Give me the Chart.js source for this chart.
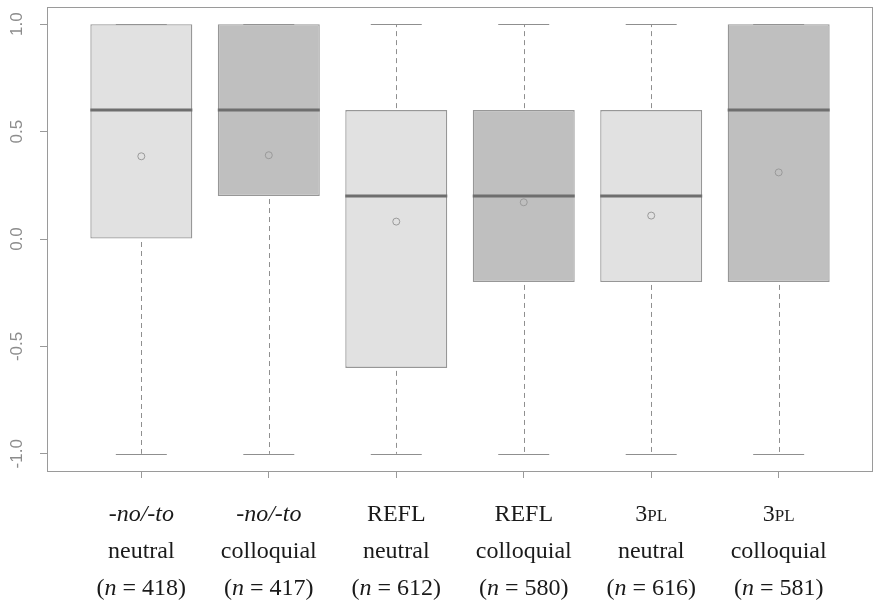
<!DOCTYPE html>
<html>
<head>
<meta charset="utf-8">
<script src="https://cdn.jsdelivr.net/npm/chart.js@4"></script>
<style>
  html, body { margin: 0; padding: 0; background: #fff; }
  #wrap { width: 873px; height: 609px; }
</style>
</head>
<body>
<div id="wrap"><canvas id="boxChart" width="873" height="609"></canvas></div>
<script>
// categories
const forms = ['-no/-to', '-no/-to', 'REFL', 'REFL', '3PL', '3PL'];
const registers = ['neutral', 'colloquial', 'neutral', 'colloquial', 'neutral', 'colloquial'];
const counts = [418, 417, 612, 580, 616, 581];
const positions = [1, 2, 3, 4, 5, 6];

// five-number summaries + means
const mins = [-1, -1, -1, -1, -1, -1];
const q1s = [0, 0.2, -0.6, -0.2, -0.2, -0.2];
const medians = [0.6, 0.6, 0.2, 0.2, 0.2, 0.6];
const q3s = [1, 1, 0.6, 0.6, 0.6, 1];
const maxs = [1, 1, 1, 1, 1, 1];
const means = [0.385, 0.39, 0.081, 0.171, 0.109, 0.31];

const yTicks = [-1, -0.5, 0, 0.5, 1];

const lightFill = '#e1e1e1';
const darkFill = '#bfbfbf';
const boxFills = positions.map((p, i) => i % 2 === 0 ? lightFill : darkFill);

// whiskers, caps and medians
const boxExtras = {
    id: 'boxExtras',
    beforeDatasetsDraw(chart) {
        const { ctx, scales: { x, y } } = chart;
        ctx.save();
        ctx.strokeStyle = '#8f8f8f';
        ctx.lineWidth = 1;
        positions.forEach((p, i) => {
            const px = Math.round(x.getPixelForValue(p)) + 0.5;
            ctx.setLineDash([5, 4]);
            ctx.beginPath();
            if (maxs[i] > q3s[i]) {
                ctx.moveTo(px, y.getPixelForValue(q3s[i]) - 2);
                ctx.lineTo(px, y.getPixelForValue(maxs[i]));
            }
            if (mins[i] < q1s[i]) {
                ctx.moveTo(px, y.getPixelForValue(q1s[i]) + 3);
                ctx.lineTo(px, y.getPixelForValue(mins[i]));
            }
            ctx.stroke();
            ctx.setLineDash([]);
            ctx.beginPath();
            [mins[i], maxs[i]].forEach(v => {
                const py = Math.round(y.getPixelForValue(v)) + 0.5;
                ctx.moveTo(x.getPixelForValue(p - 0.2), py);
                ctx.lineTo(x.getPixelForValue(p + 0.2), py);
            });
            ctx.stroke();
        });
        ctx.restore();
    },
    afterDatasetsDraw(chart) {
        const { ctx, scales: { x, y } } = chart;
        ctx.save();
        ctx.strokeStyle = '#6e6e6e';
        ctx.lineWidth = 3;
        positions.forEach((p, i) => {
            const py = y.getPixelForValue(medians[i]);
            ctx.beginPath();
            ctx.moveTo(x.getPixelForValue(p - 0.4), py);
            ctx.lineTo(x.getPixelForValue(p + 0.4), py);
            ctx.stroke();
        });
        ctx.restore();
    },
    afterDraw(chart) {
        const { ctx, chartArea: a, scales: { x } } = chart;
        ctx.save();
        // plot frame
        ctx.strokeStyle = '#9a9a9a';
        ctx.lineWidth = 1;
        ctx.strokeRect(Math.round(a.left) + 0.5, Math.round(a.top) + 0.5,
            Math.round(a.right - a.left) - 1, Math.round(a.bottom - a.top));

        // category labels, three lines each
        const size = 24;
        const serif = '"Liberation Serif", "Times New Roman", serif';
        ctx.fillStyle = '#1a1a1a';
        ctx.textBaseline = 'alphabetic';
        ctx.textAlign = 'left';
        const drawParts = (parts, cx, by) => {
            let total = 0;
            parts.forEach(pt => { ctx.font = pt.font; total += ctx.measureText(pt.text).width; });
            let sx = cx - total / 2;
            parts.forEach(pt => {
                ctx.font = pt.font;
                ctx.fillText(pt.text, sx, by);
                sx += ctx.measureText(pt.text).width;
            });
        };
        const reg = size + 'px ' + serif;
        const ita = 'italic ' + size + 'px ' + serif;
        const small = Math.round(size * 0.72) + 'px ' + serif;
        positions.forEach((p, i) => {
            const cx = x.getPixelForValue(p);
            let top;
            if (forms[i] === '-no/-to') top = [{ text: forms[i], font: ita }];
            else if (forms[i] === '3PL') top = [{ text: '3', font: reg }, { text: 'PL', font: small }];
            else top = [{ text: forms[i], font: reg }];
            drawParts(top, cx, 521);
            drawParts([{ text: registers[i], font: reg }], cx, 558);
            drawParts([
                { text: '(', font: reg },
                { text: 'n', font: ita },
                { text: ' = ' + counts[i] + ')', font: reg }
            ], cx, 595);
        });
        ctx.restore();
    }
};

const ctx = document.getElementById('boxChart').getContext('2d');
const boxChart = new Chart(ctx, {
    type: 'bar',
    data: {
        datasets: [{
            type: 'bar',
            label: 'IQR',
            order: 2,
            data: positions.map((p, i) => ({ x: p, y: [q1s[i], q3s[i]] })),
            backgroundColor: boxFills,
            borderColor: '#979797',
            borderWidth: 1.3,
            borderSkipped: false,
            categoryPercentage: 1,
            barPercentage: 0.8
        }, {
            type: 'scatter',
            label: 'mean',
            order: 1,
            data: positions.map((p, i) => ({ x: p, y: means[i] })),
            pointStyle: 'circle',
            pointRadius: 3.5,
            borderColor: '#9a9a9a',
            backgroundColor: 'rgba(0,0,0,0)',
            borderWidth: 1
        }]
    },
    options: {
        responsive: false,
        animation: false,
        layout: { autoPadding: false, padding: { top: 7, right: -1, left: 0, bottom: 0 } },
        plugins: { legend: { display: false }, tooltip: { enabled: false } },
        scales: {
            x: {
                type: 'linear',
                offset: false,
                min: 0.26,
                max: 6.74,
                afterBuildTicks: s => { s.ticks = positions.map(v => ({ value: v })); },
                afterFit: s => { s.height = 138; s.paddingLeft = 0; s.paddingRight = 0; },
                ticks: { display: false },
                grid: { offset: false, drawOnChartArea: false, tickLength: 7, color: '#9a9a9a' },
                border: { display: false }
            },
            y: {
                type: 'linear',
                min: -1.08,
                max: 1.08,
                afterBuildTicks: s => { s.ticks = yTicks.map(v => ({ value: v })); },
                afterFit: s => { s.width = 47; s.paddingTop = 0; s.paddingBottom = 0; },
                ticks: {
                    minRotation: 90,
                    maxRotation: 90,
                    crossAlign: 'center',
                    padding: 8,
                    color: '#8c8c8c',
                    font: { family: '"Liberation Sans", Arial, sans-serif', size: 17 },
                    callback: v => v.toFixed(1)
                },
                grid: { drawOnChartArea: false, tickLength: 7, color: '#9a9a9a' },
                border: { display: false }
            }
        }
    },
    plugins: [boxExtras]
});
</script>
</body>
</html>
